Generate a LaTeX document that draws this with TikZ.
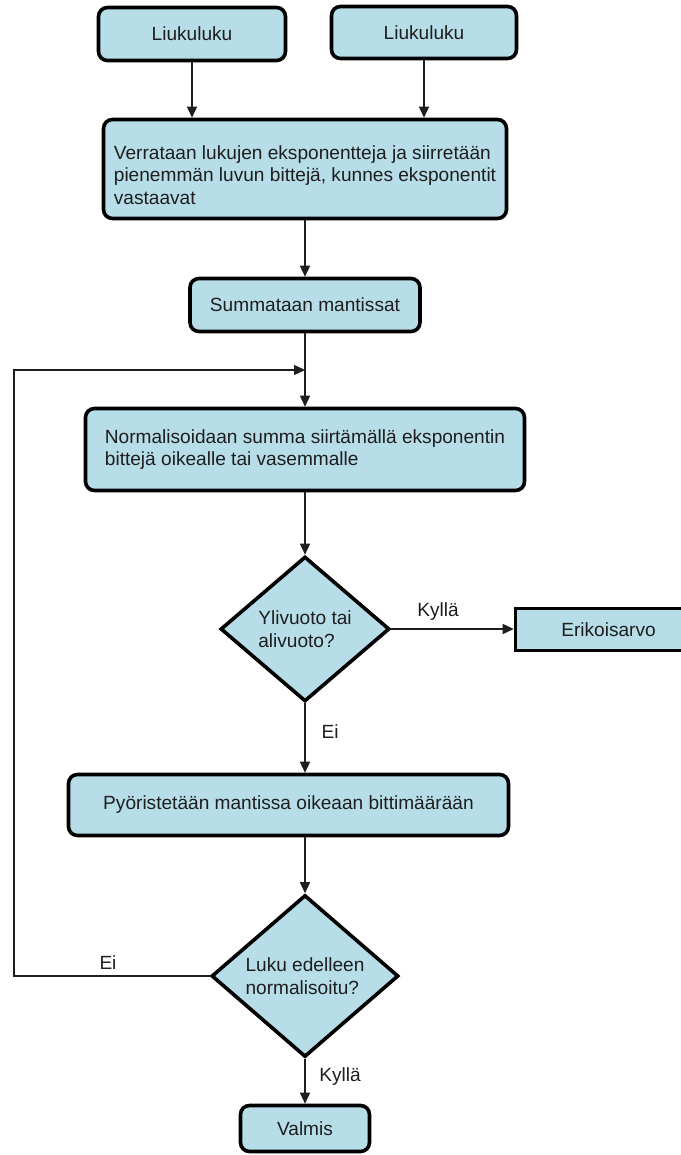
\documentclass[tikz,border=0pt]{standalone}
\usepackage{fontspec}
\setmainfont{Liberation Sans}
\usetikzlibrary{shapes.geometric,arrows.meta}
\definecolor{boxblue}{RGB}{183,221,232}
\definecolor{ink}{RGB}{30,30,30}
\begin{document}
\begin{tikzpicture}[x=1pt,y=-1pt,
  every node/.style={font=\fontsize{19.1}{22.5}\selectfont, text=ink},
  procbox/.style={draw=black, line width=3.6pt, fill=boxblue, rounded corners=9pt, inner sep=0pt},
  flatbox/.style={draw=black, line width=3.6pt, fill=boxblue, inner sep=0pt},
  decision/.style={diamond, draw=black, line width=3.6pt, fill=boxblue, inner sep=0pt, align=left},
  plaintext/.style={inner sep=0pt},
  flow/.style={line width=1.4pt, draw=ink, -{Triangle[length=11pt,width=10pt]}},
  lbl/.style={inner sep=0pt}]
\fill[white] (0,0) rectangle (680,1155);
\useasboundingbox (0,0) rectangle (680,1155);

% nodes
\node[procbox, minimum width=187, minimum height=53] (in1) at (192,34) {Liukuluku};
\node[procbox, minimum width=185, minimum height=52] (in2) at (424,32.5) {Liukuluku};
\node[procbox, minimum width=403, minimum height=99] (cmp) at (305,169) {};
\node[plaintext, align=left] (cmptxt) at (305,175) {Verrataan lukujen eksponentteja ja siirretään\\pienemmän luvun bittejä, kunnes eksponentit\\vastaavat};
\node[procbox, minimum width=230, minimum height=53] (sum) at (305,305) {Summataan mantissat};
\node[procbox, minimum width=439, minimum height=82, align=left] (norm) at (305,449.5) {Normalisoidaan summa siirtämällä eksponentin\\bittejä oikealle tai vasemmalle};
\node[decision, minimum width=169, minimum height=145] (ovf) at (305,629) {Ylivuoto tai\\alivuoto?};
\node[flatbox, minimum width=186, minimum height=42] (spec) at (608.5,629.5) {Erikoisarvo};
\node[procbox, minimum width=440, minimum height=61] (round) at (288.5,805) {Pyöristetään mantissa oikeaan bittimäärään};
\node[decision, minimum width=187, minimum height=162] (chk) at (305,976) {Luku edelleen\\normalisoitu?};
\node[procbox, minimum width=129, minimum height=46] (done) at (305,1128.5) {Valmis};

% labels
\node[lbl] (yes1) at (438,612) {Kyllä};
\node[lbl] (no1) at (330,732) {Ei};
\node[lbl] (no2) at (108,963) {Ei};
\node[lbl] (yes2) at (340,1077) {Kyllä};

% connectors
\coordinate (merge) at (305,370);
\coordinate (loopc) at (14,370);
\draw[flow] (in1.south) -- (in1.south |- cmp.north);
\draw[flow] (in2.south) -- (in2.south |- cmp.north);
\draw[flow] (cmp.south) -- (sum.north);
\draw[flow] (sum.south) -- (norm.north);
\draw[flow] (norm.south) -- (ovf.north);
\draw[flow] (ovf.east) -- (ovf.east -| spec.west);
\draw[flow] (ovf.south) -- (ovf.south |- round.north);
\draw[flow] (chk.north |- round.south) -- (chk.north);
\draw[flow] (chk.south) -- (done.north);
\draw[flow] (chk.west) -| (loopc) -- (merge);
\end{tikzpicture}
\end{document}
